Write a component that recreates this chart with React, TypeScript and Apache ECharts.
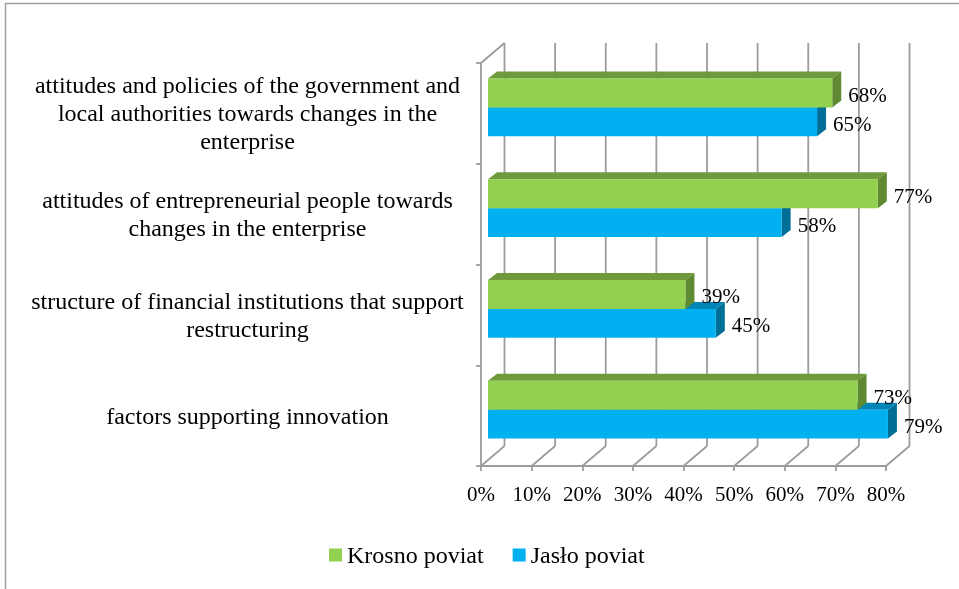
import React, { useEffect, useRef } from "react";
import * as echarts from "echarts";

// Categories from bottom to top (ECharts category axis draws the first at the bottom)
const categories = [
  "factors supporting innovation",
  "structure of financial institutions that support\nrestructuring",
  "attitudes of entrepreneurial people towards\nchanges in the enterprise",
  "attitudes and policies of the government and\nlocal authorities towards changes in the\nenterprise",
];
const seriesNames = ["Krosno poviat", "Jasło poviat"];
const krosnoValues = [73, 39, 77, 68];
const jasloValues = [79, 45, 58, 65];
const xTicks = [0, 10, 20, 30, 40, 50, 60, 70, 80];

const FONT = "serif";
const GRID_COLOR = "#9c9c9c";
const WALL_DX = 23.5;
const WALL_DY = -20;
const BAR_DX = 7;
const BAR_DY = -6;
const DEPTH_X = 9;
const DEPTH_Y = 7;

const palettes = {
  green: { front: "#92D050", top: "#6E9A3C", side: "#608A32" },
  blue: { front: "#00B0F0", top: "#0085B6", side: "#006F98" },
};

function makeBarRender(upper: boolean, pal: { front: string; top: string; side: string }) {
  return (params: any, api: any) => {
    const cat = api.value(0);
    const v = api.value(1);
    const c0 = api.coord([0, cat]);
    const c1 = api.coord([v, cat]);
    const band = api.size([0, 1])[1];
    const h = band * 0.287;
    const yc = c0[1] + BAR_DY;
    const yt = upper ? yc - h : yc;
    const yb = yt + h;
    const x0 = c0[0] + BAR_DX;
    const x1 = c1[0] + BAR_DX;
    return {
      type: "group",
      children: [
        {
          type: "polygon",
          shape: {
            points: [
              [x0, yt],
              [x1, yt],
              [x1 + DEPTH_X, yt - DEPTH_Y],
              [x0 + DEPTH_X, yt - DEPTH_Y],
            ],
          },
          style: { fill: pal.top },
        },
        {
          type: "polygon",
          shape: {
            points: [
              [x1, yt],
              [x1 + DEPTH_X, yt - DEPTH_Y],
              [x1 + DEPTH_X, yb - DEPTH_Y],
              [x1, yb],
            ],
          },
          style: { fill: pal.side },
        },
        {
          type: "rect",
          shape: { x: x0, y: yt, width: x1 - x0, height: h },
          style: { fill: pal.front },
        },
        {
          type: "text",
          x: x1 + 16,
          y: (yt + yb) / 2 + 2,
          style: {
            text: v + "%",
            fill: "#000",
            fontFamily: FONT,
            fontSize: 21,
            align: "left",
            verticalAlign: "middle",
          },
        },
      ],
    };
  };
}

function wallRender(params: any, api: any) {
  const v = api.value(0);
  const cs = params.coordSys;
  const top = cs.y;
  const bottom = cs.y + cs.height;
  const fx = api.coord([v, 0])[0];
  const style = { stroke: GRID_COLOR, lineWidth: 1.8 };
  const children: any[] = [
    {
      type: "line",
      shape: { x1: fx + WALL_DX, y1: top + WALL_DY, x2: fx + WALL_DX, y2: bottom + WALL_DY },
      style,
    },
    {
      type: "line",
      shape: { x1: fx, y1: bottom, x2: fx + WALL_DX, y2: bottom + WALL_DY },
      style,
    },
  ];
  if (v === xTicks[0]) {
    children.push({
      type: "line",
      shape: { x1: fx, y1: top, x2: fx + WALL_DX, y2: top + WALL_DY },
      style,
    });
  }
  return { type: "group", children };
}

export default function App() {
  const ref = useRef<HTMLDivElement>(null);
  useEffect(() => {
    if (!ref.current) return;
    const chart = echarts.init(ref.current, undefined, { renderer: "svg" });
    chart.setOption({
      animation: false,
      graphic: [
        {
          type: "line",
          shape: { x1: 5, y1: 3.5, x2: 959, y2: 3.5 },
          style: { stroke: "#a0a0a0", lineWidth: 1.5 },
        },
        {
          type: "line",
          shape: { x1: 5.5, y1: 3, x2: 5.5, y2: 589 },
          style: { stroke: "#a0a0a0", lineWidth: 1.5 },
        },
      ],
      grid: { left: 481, top: 63, width: 405, height: 403 },
      legend: {
        data: seriesNames,
        left: 324,
        top: 538,
        icon: "rect",
        itemWidth: 13,
        itemHeight: 13,
        itemGap: 29,
        textStyle: { fontFamily: FONT, fontSize: 24, color: "#000" },
      },
      xAxis: {
        type: "value",
        min: 0,
        max: 80,
        interval: 10,
        axisLine: { show: true, lineStyle: { color: GRID_COLOR, width: 1.8 } },
        axisTick: { show: true, length: 5, lineStyle: { color: GRID_COLOR, width: 1.8 } },
        splitLine: { show: false },
        axisLabel: {
          formatter: "{value}%",
          fontFamily: FONT,
          fontSize: 21,
          color: "#000",
          margin: 17,
        },
      },
      yAxis: {
        type: "category",
        data: categories,
        axisLine: { show: true, lineStyle: { color: GRID_COLOR, width: 1.8 } },
        axisTick: { show: true, length: 5, lineStyle: { color: GRID_COLOR, width: 1.8 } },
        splitLine: { show: false },
        axisLabel: {
          fontFamily: FONT,
          fontSize: 24,
          lineHeight: 28,
          color: "#000",
          align: "center",
          margin: 233.5,
        },
      },
      series: [
        {
          name: "walls",
          type: "custom",
          z: 1,
          silent: true,
          clip: false,
          renderItem: wallRender,
          data: xTicks.map((t) => [t, 0]),
          encode: { x: 0, y: 1 },
        },
        {
          name: seriesNames[1],
          type: "custom",
          z: 2,
          clip: false,
          itemStyle: { color: palettes.blue.front },
          renderItem: makeBarRender(false, palettes.blue),
          data: jasloValues.map((v, i) => [i, v]),
          encode: { x: 1, y: 0 },
        },
        {
          name: seriesNames[0],
          type: "custom",
          z: 3,
          clip: false,
          itemStyle: { color: palettes.green.front },
          renderItem: makeBarRender(true, palettes.green),
          data: krosnoValues.map((v, i) => [i, v]),
          encode: { x: 1, y: 0 },
        },
      ],
    });
    return () => chart.dispose();
  }, []);
  return (
    <div
      ref={ref}
      style={{ position: "fixed", left: 0, top: 0, width: 959, height: 589 }}
    />
  );
}
